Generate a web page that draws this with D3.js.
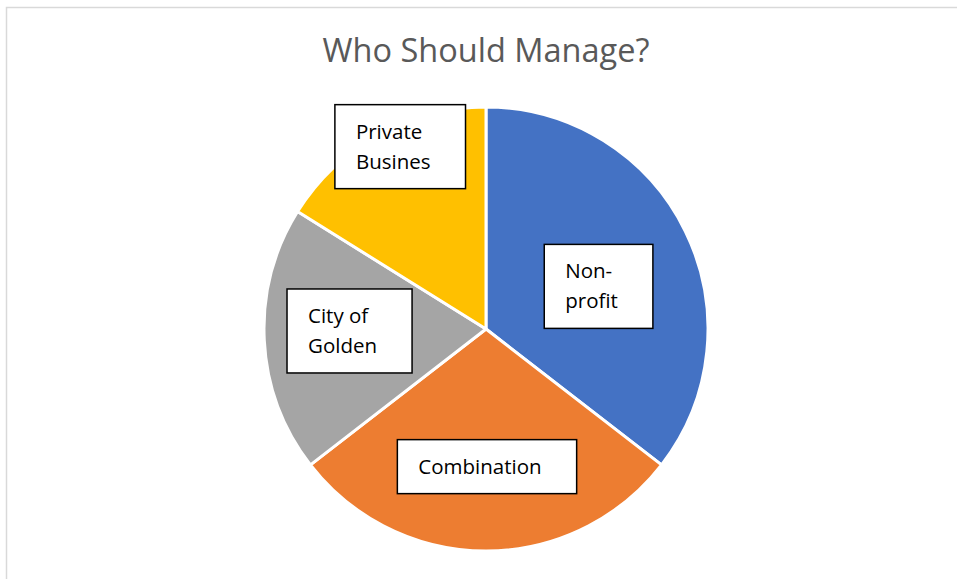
<!DOCTYPE html>
<html>
<head>
<meta charset="utf-8">
<script src="https://cdn.jsdelivr.net/npm/d3@7"></script>
<style>
  body { margin: 0; background: #fff; }
  svg { display: block; font-family: "Open Sans", sans-serif; }
</style>
</head>
<body>
<div id="chart"></div>
<script>
// data (slices go clockwise from 12 o'clock)
const categories = ["Non-profit", "Combination", "City of Golden", "Private Business"];
const values = [11, 9, 6, 5];
const labelLines = [["Non-", "profit"], ["Combination"], ["City of", "Golden"], ["Private", "Busines"]];
const colors = ["#4472C4", "#ED7D31", "#A5A5A5", "#FFC000"];

// label box nudges away from the label arc centroid
const labelShift = [[-11, 18], [1, 0], [1, -5], [-19, -62]];

const w = 957;
const h = 579;
const cx = 486;
const cy = 329;
const radius = 222;

const svg = d3.select("#chart")
  .append("svg")
  .attr("width", w)
  .attr("height", h);

// chart area frame
svg.append("rect")
   .attr("x", 6.5)
   .attr("y", 7.5)
   .attr("width", w + 20)
   .attr("height", h + 20)
   .attr("fill", "none")
   .attr("stroke", "#d9d9d9")
   .attr("stroke-width", 1.5);

svg.append("text")
   .attr("x", cx)
   .attr("y", 62)
   .attr("text-anchor", "middle")
   .attr("fill", "#595959")
   .style("font-size", "32.5px")
   .text("Who Should Manage?");

const pie = d3.pie().sort(null).value(d => d);
const arcs = pie(values);
const arc = d3.arc().innerRadius(0).outerRadius(radius);
const labelArc = d3.arc().innerRadius(radius * 0.62).outerRadius(radius * 0.62);

const g = svg.append("g").attr("transform", `translate(${cx}, ${cy})`);

g.selectAll("path")
 .data(arcs)
 .enter()
 .append("path")
 .attr("d", arc)
 .attr("fill", (d, i) => colors[i])
 .attr("stroke", "#fff")
 .attr("stroke-width", 3)
 .attr("stroke-linejoin", "round");

const lineH = 30;
const padL = 21, padR = 35, padT = 34, padB = 20;

const labels = g.selectAll("g.label")
  .data(arcs)
  .enter()
  .append("g")
  .attr("class", "label");

labels.each(function (d, i) {
  const lg = d3.select(this);
  const box = lg.append("rect")
    .attr("fill", "#fff")
    .attr("stroke", "#000")
    .attr("stroke-width", 1.5);
  const txt = lg.append("text")
    .attr("fill", "#000")
    .style("font-size", "20.5px");
  labelLines[i].forEach((line, k) => {
    txt.append("tspan").attr("x", 0).attr("y", k * lineH).text(line);
  });
  const tw = txt.node().getBBox().width;
  const bw = tw + padL + padR;
  const bh = padT + (labelLines[i].length - 1) * lineH + padB;
  const [mx, my] = labelArc.centroid(d);
  const x0 = mx + labelShift[i][0] - bw / 2;
  const y0 = my + labelShift[i][1] - bh / 2;
  box.attr("x", x0).attr("y", y0).attr("width", bw).attr("height", bh);
  txt.attr("transform", `translate(${x0 + padL}, ${y0 + padT})`);
});
</script>
</body>
</html>
